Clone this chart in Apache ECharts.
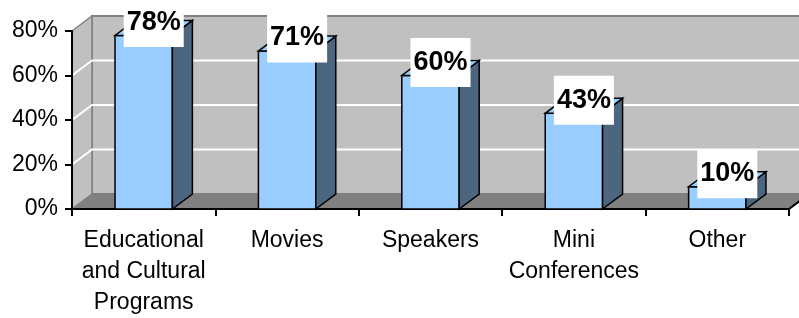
<!DOCTYPE html>
<html>
<head>
<meta charset="utf-8">
<script src="https://cdn.jsdelivr.net/npm/echarts@6/dist/echarts.min.js"></script>
<style>
    html, body { margin: 0; padding: 0; background: #fff; }
    #chart { width: 799px; height: 318px; }
</style>
</head>
<body>
<div id="chart"></div>
<script>
//图表数据
var categories = ['Educational\nand Cultural\nPrograms', 'Movies', 'Speakers', 'Mini\nConferences', 'Other'];
var values = [78, 71, 60, 43, 10];
var yTicks = [0, 20, 40, 60, 80];

//3D的纵深偏移
var DX = 20;
var DY = -15;

var myChart = echarts.init(document.getElementById('chart'));

//背景墙和地板
function renderWalls(params, api) {
    var cs = params.coordSys;
    var x0 = cs.x, x1 = cs.x + cs.width;
    var yTop = cs.y, yBot = cs.y + cs.height;
    var children = [];
    //后墙
    children.push({
        type: 'polygon',
        shape: { points: [[x0 + DX, yTop + DY], [x1 + DX, yTop + DY], [x1 + DX, yBot + DY], [x0 + DX, yBot + DY]] },
        style: { fill: '#C0C0C0', stroke: '#808080', lineWidth: 2 }
    });
    //左侧墙
    children.push({
        type: 'polygon',
        shape: { points: [[x0, yTop], [x0 + DX, yTop + DY], [x0 + DX, yBot + DY], [x0, yBot]] },
        style: { fill: '#C0C0C0', stroke: '#808080', lineWidth: 1.5 }
    });
    //网格线
    yTicks.forEach(function (v) {
        if (v === 0 || v === yTicks[yTicks.length - 1]) return;
        var y = api.coord([0, v])[1];
        children.push({
            type: 'polyline',
            shape: { points: [[x0, y], [x0 + DX, y + DY], [x1 + DX, y + DY]] },
            style: { fill: null, stroke: '#ffffff', lineWidth: 2 }
        });
    });
    //地板
    children.push({
        type: 'polygon',
        shape: { points: [[x0, yBot], [x1, yBot], [x1 + DX, yBot + DY], [x0 + DX, yBot + DY]] },
        style: { fill: '#808080', stroke: '#808080', lineWidth: 1 }
    });
    children.push({
        type: 'line',
        shape: { x1: x1, y1: yBot, x2: x1 + DX, y2: yBot + DY },
        style: { stroke: '#000', lineWidth: 2 }
    });
    return { type: 'group', children: children };
}

//3D柱子
function renderBar(params, api) {
    var idx = api.value(0);
    var top = api.coord([idx, api.value(1)]);
    var base = api.coord([idx, 0]);
    var w = api.size([1, 0])[0] * 0.4;
    var l = top[0] - w / 2, r = top[0] + w / 2;
    var t = top[1], b = base[1];
    var edge = { stroke: '#000', lineWidth: 1.5 };
    return {
        type: 'group',
        children: [{
            type: 'polygon',
            shape: { points: [[l, b], [r, b], [r, t], [l, t]] },
            style: Object.assign({ fill: '#99CCFF' }, edge)
        }, {
            type: 'polygon',
            shape: { points: [[r, b], [r + DX, b + DY], [r + DX, t + DY], [r, t]] },
            style: Object.assign({ fill: '#4D6680' }, edge)
        }, {
            type: 'polygon',
            shape: { points: [[l, t], [r, t], [r + DX, t + DY], [l + DX, t + DY]] },
            style: Object.assign({ fill: '#99CCFF' }, edge)
        }, {
            type: 'text',
            x: top[0] + 10,
            y: t - 13,
            style: {
                text: api.value(1) + '%',
                font: 'bold 27px Arial',
                fill: '#000',
                align: 'center',
                verticalAlign: 'middle',
                backgroundColor: '#fff',
                padding: [11, 3, 11, 3]
            }
        }]
    };
}

var barData = values.map(function (v, i) { return [i, v]; });

var option = {
    backgroundColor: '#fff',
    animation: false,
    grid: {
        left: 72,
        right: 10,
        top: 31,
        bottom: 109
    },
    xAxis: {
        type: 'category',
        data: categories,
        axisLine: { lineStyle: { color: '#000', width: 2 } },
        axisTick: { show: true, length: 7, lineStyle: { color: '#000', width: 2 } },
        axisLabel: {
            interval: 0,
            margin: 16,
            color: '#000',
            fontFamily: 'Arial',
            fontSize: 23,
            lineHeight: 31
        }
    },
    yAxis: {
        type: 'value',
        min: 0,
        max: 80,
        interval: 20,
        axisLine: { show: true, lineStyle: { color: '#000', width: 2 } },
        axisTick: { show: true, length: 7, lineStyle: { color: '#000', width: 2 } },
        splitLine: { show: false },
        axisLabel: {
            margin: 14,
            color: '#000',
            fontFamily: 'Arial',
            fontSize: 23,
            formatter: '{value}%'
        }
    },
    series: [{
        type: 'custom',
        renderItem: renderWalls,
        data: [[0, 0]],
        z: 0,
        silent: true
    }, {
        type: 'custom',
        renderItem: renderBar,
        data: barData,
        encode: { x: 0, y: 1 },
        z: 2
    }]
};
myChart.setOption(option);
</script>
</body>
</html>
